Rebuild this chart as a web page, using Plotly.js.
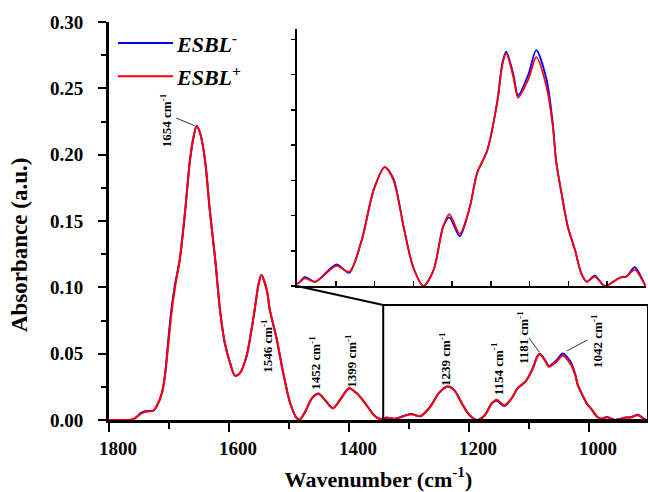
<!DOCTYPE html>
<html>
<head>
<meta charset="utf-8">
<script src="https://cdn.plot.ly/plotly-3.0.1.min.js"></script>
<style>html,body{margin:0;padding:0;background:#fff}#chart{width:648px;height:492px}</style>
</head>
<body>
<div id="chart"></div>
<script>
// ---------- data ----------
const wavenumber = [1800,1790,1780,1770,1760,1752,1748,1737,1726,1721,1712,1707,1701,1696,1690,1682,1673,1665,1659,1654,1648,1640,1632,1623,1615,1607,1598,1590,1582,1571,1559,1551,1546,1537,1532,1521,1509,1498,1487,1482,1473,1462,1451,1440,1427,1415,1400,1387,1373,1357,1347,1337,1324,1297,1281,1265,1250,1236,1225,1212,1200,1187,1174,1162,1154,1141,1128,1119,1106,1093,1087,1082,1073,1067,1054,1044,1031,1023,1019,1012,1004,995,987,980,970,957,938,930,919,905,902];

const esblPlus = [0,0,0,0,0.0005,0.003,0.0045,0.0063,0.0070,0.010,0.020,0.0327,0.0578,0.080,0.100,0.121,0.158,0.196,0.2135,0.2216,0.216,0.196,0.158,0.121,0.083,0.058,0.0427,0.0334,0.0352,0.0477,0.0778,0.1017,0.1093,0.098,0.083,0.062,0.034,0.0126,0.0013,0.0003,0.0063,0.0163,0.0196,0.0151,0.0088,0.0151,0.0239,0.0201,0.0126,0.003,0.0005,0.0016,0.0009,0.0043,0.0030,0.0098,0.0204,0.0253,0.0226,0.0126,0.0041,0.0,0.0034,0.0126,0.0153,0.0111,0.0169,0.024,0.0289,0.0396,0.047,0.0495,0.0445,0.0401,0.0440,0.0487,0.0424,0.0339,0.0268,0.0197,0.0126,0.0077,0.0027,0.0009,0.0020,0.0,0.0018,0.0020,0.0035,0.0,0.0];

const esblMinus = [0,0,0,0,0.0005,0.003,0.0050,0.0068,0.0070,0.010,0.020,0.0327,0.061,0.083,0.102,0.121,0.158,0.196,0.2135,0.2216,0.216,0.196,0.158,0.121,0.083,0.058,0.0427,0.0334,0.0352,0.0477,0.0778,0.1017,0.1093,0.098,0.083,0.062,0.034,0.0126,0.0013,0.0003,0.0063,0.0163,0.0200,0.0151,0.0088,0.0151,0.0239,0.0201,0.0126,0.003,0.0005,0.0019,0.0009,0.0046,0.0028,0.0098,0.0204,0.0253,0.0229,0.0126,0.0041,0.0,0.0034,0.0126,0.0146,0.0106,0.0169,0.024,0.0289,0.0396,0.0475,0.0499,0.0450,0.0406,0.0450,0.0502,0.0440,0.0345,0.0268,0.0197,0.0126,0.0077,0.0027,0.0009,0.0022,0.0,0.0018,0.0020,0.0040,0.0,0.0];

const seriesNames = ['ESBL<sup>-</sup>', 'ESBL<sup>+</sup>'];
const peakLabels = ['1654 cm<sup>-1</sup>','1546 cm<sup>-1</sup>','1452 cm<sup>-1</sup>','1399 cm<sup>-1</sup>','1239 cm<sup>-1</sup>','1154 cm<sup>-1</sup>','1181 cm<sup>-1</sup>','1042 cm<sup>-1</sup>'];
const yTickLabels = ['0.00','0.05','0.10','0.15','0.20','0.25','0.30'];
const xTickLabels = ['1800','1600','1400','1200','1000'];

// ---------- layout configuration ----------
const FONT = 'Liberation Serif';
const xMain = [1800, 901.7];
const yMain = [0, 0.30];
const insetX = [1347, 905];
const insetY = [0, 0.0547];
const zoomBox = {x0: 1343, x1: 901.7, y0: 0, y1: 0.0867};
const insetDomX = [0.3488, 0.9963];
const insetDomY = [0.3367, 0.9824];
const BLUE = '#0000ff', RED = '#ff0000';

function line(x, y, color, xa, ya, w) {
  return {x: x, y: y, type: 'scatter', mode: 'lines', xaxis: xa, yaxis: ya,
          line: {color: color, width: w, shape: 'spline', smoothing: 0.8},
          showlegend: false, hoverinfo: 'skip'};
}

const traces = [
  line(wavenumber, esblMinus, BLUE, 'x', 'y', 2),
  line(wavenumber, esblPlus, RED, 'x', 'y', 2),
  line(wavenumber, esblMinus, BLUE, 'x2', 'y2', 1.8),
  line(wavenumber, esblPlus, RED, 'x2', 'y2', 1.8)
];

const xfrac = v => (xMain[0] - v) / (xMain[0] - xMain[1]);
const yfrac = v => (v - yMain[0]) / (yMain[1] - yMain[0]);

const labelPlaces = [
  {x: 1705, y: 0.226}, {x: 1537, y: 0.0558}, {x: 1457, y: 0.043}, {x: 1397, y: 0.0445},
  {x: 1240, y: 0.046}, {x: 1153, y: 0.0384}, {x: 1110, y: 0.0618}, {x: 987, y: 0.0595}
];
const annotations = peakLabels.map((t, i) => ({
  text: t, x: labelPlaces[i].x, y: labelPlaces[i].y, xref: 'x', yref: 'y',
  textangle: -90, showarrow: false, xanchor: 'center', yanchor: 'middle',
  font: {family: FONT, size: 13, color: '#000', weight: 'bold'}
}));

// legend texts
annotations.push({text: '<i>' + seriesNames[0] + '</i>', xref: 'paper', yref: 'paper',
  x: 0.12, y: 0.947, xanchor: 'left', yanchor: 'middle', showarrow: false,
  font: {family: FONT, size: 22, color: '#000', weight: 'bold'}});
annotations.push({text: '<i>' + seriesNames[1] + '</i>', xref: 'paper', yref: 'paper',
  x: 0.12, y: 0.864, xanchor: 'left', yanchor: 'middle', showarrow: false,
  font: {family: FONT, size: 22, color: '#000', weight: 'bold'}});
// y axis title
annotations.push({text: 'Absorbance (a.u.)', xref: 'paper', yref: 'paper',
  x: -0.165, y: 0.4397, textangle: -90, showarrow: false, xanchor: 'center', yanchor: 'middle',
  font: {family: FONT, size: 23, color: '#000', weight: 'bold'}});

const shapes = [
  // legend lines
  {type: 'line', xref: 'paper', yref: 'paper', x0: 0.0167, x1: 0.1187, y0: 0.947, y1: 0.947, line: {color: BLUE, width: 2}},
  {type: 'line', xref: 'paper', yref: 'paper', x0: 0.0167, x1: 0.1187, y0: 0.864, y1: 0.864, line: {color: RED, width: 2}},
  // leader lines
  {type: 'line', xref: 'x', yref: 'y', x0: 1688, y0: 0.2276, x1: 1657, y1: 0.2218, line: {color: '#000', width: 0.8}},
  {type: 'line', xref: 'x', yref: 'y', x0: 1100, y0: 0.0618, x1: 1083, y1: 0.0512, line: {color: '#000', width: 0.8}},
  {type: 'line', xref: 'x', yref: 'y', x0: 1003, y0: 0.0603, x1: 1037, y1: 0.0520, line: {color: '#000', width: 0.8}},
  // zoom box
  {type: 'rect', xref: 'x', yref: 'y', x0: zoomBox.x0, x1: zoomBox.x1, y0: zoomBox.y0, y1: zoomBox.y1, line: {color: '#000', width: 2}},
  // connector
  {type: 'line', xref: 'paper', yref: 'paper', x0: insetDomX[0], y0: insetDomY[0], x1: xfrac(zoomBox.x0), y1: yfrac(zoomBox.y1), line: {color: '#000', width: 2}}
];

const tickFont = {family: FONT, size: 19, color: '#000', weight: 'bold'};

const layout = {
  width: 648, height: 492,
  margin: {l: 109, r: 0, t: 22, b: 72},
  paper_bgcolor: '#fff', plot_bgcolor: 'rgba(0,0,0,0)',
  showlegend: false,
  font: {family: FONT, color: '#000'},
  xaxis: {
    range: xMain, showgrid: false, zeroline: false,
    showline: true, linewidth: 3, linecolor: '#000',
    ticks: 'outside', ticklen: 9, tickwidth: 2, tickcolor: '#000',
    tickmode: 'array', tickvals: xTickLabels.map(Number), ticktext: xTickLabels,
    minor: {dtick: 100, tick0: 0, ticks: 'outside', ticklen: 6, tickwidth: 2, tickcolor: '#000', showgrid: false},
    tickfont: tickFont, ticklabelshift: -9,
    title: {text: 'Wavenumber (cm<sup>-1</sup>)', font: {family: FONT, size: 22, color: '#000', weight: 'bold'}, standoff: 14}
  },
  yaxis: {
    range: yMain, showgrid: false, zeroline: false,
    showline: true, linewidth: 3, linecolor: '#000',
    ticks: 'outside', ticklen: 8, tickwidth: 2, tickcolor: '#000',
    tickmode: 'array', tickvals: yTickLabels.map(Number), ticktext: yTickLabels,
    minor: {dtick: 0.025, tick0: 0, ticks: 'outside', ticklen: 5, tickwidth: 2, tickcolor: '#000', showgrid: false},
    tickfont: tickFont, ticklabelstandoff: 11
  },
  xaxis3: {
    overlaying: 'x', side: 'top', anchor: 'y', range: [0, 10], dtick: 1, tick0: 0,
    showgrid: false, zeroline: false, showticklabels: false,
    showline: true, linewidth: 3, linecolor: '#000',
    ticks: 'inside', ticklen: 4, tickwidth: 2, tickcolor: '#000'
  },
  xaxis2: {
    domain: insetDomX, anchor: 'y2', range: insetX, tick0: 905, dtick: 49.1,
    showgrid: false, zeroline: false, showticklabels: false,
    showline: true, linewidth: 2, linecolor: '#000',
    ticks: 'inside', ticklen: 5, tickwidth: 1.5, tickcolor: '#000'
  },
  yaxis2: {
    domain: insetDomY, anchor: 'x2', range: insetY, tick0: 0, dtick: 0.0075,
    showgrid: false, zeroline: false, showticklabels: false,
    showline: true, linewidth: 2, linecolor: '#000',
    ticks: 'outside', ticklen: 4, tickwidth: 1.5, tickcolor: '#000'
  },
  xaxis4: {
    overlaying: 'x2', side: 'top', anchor: 'y2', range: [0, 10], dtick: 1, tick0: 0,
    showgrid: false, zeroline: false, showticklabels: false,
    showline: true, linewidth: 2, linecolor: '#000',
    ticks: 'inside', ticklen: 4, tickwidth: 1.5, tickcolor: '#000'
  },
  yaxis3: {
    overlaying: 'y2', side: 'right', anchor: 'x2', range: [0, 6.5], dtick: 1, tick0: 0.68,
    showgrid: false, zeroline: false, showticklabels: false,
    showline: true, linewidth: 2, linecolor: '#000',
    ticks: 'inside', ticklen: 4, tickwidth: 1.5, tickcolor: '#000'
  },
  annotations: annotations,
  shapes: shapes
};

Plotly.newPlot('chart', traces, layout, {staticPlot: true, displayModeBar: false});
</script>
</body>
</html>
